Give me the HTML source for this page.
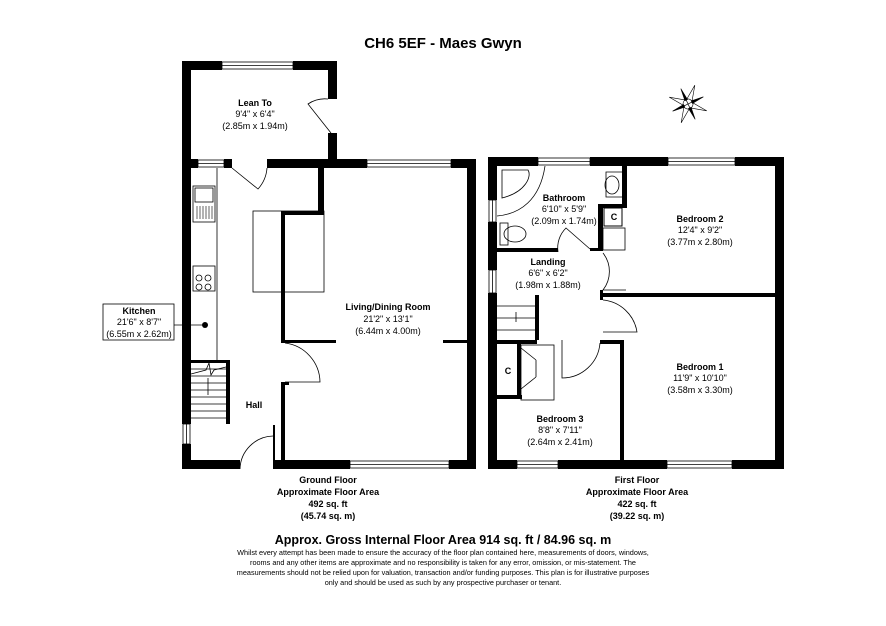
<!DOCTYPE html>
<html><head><meta charset="utf-8"><style>
html,body{margin:0;padding:0;background:#fff;}
svg{display:block;font-family:"Liberation Sans",Arial,sans-serif;}
</style></head><body>
<svg width="886" height="626" viewBox="0 0 886 626" xmlns="http://www.w3.org/2000/svg">
<rect width="886" height="626" fill="#fff"/>
<text x="443" y="48" font-size="15" font-weight="bold" text-anchor="middle">CH6 5EF - Maes Gwyn</text>

<!-- compass -->
<g transform="translate(688,104) rotate(20)" stroke="#000" stroke-width="0.6" fill="#fff">
<polygon points="0,-20 3,-3 0,0 -3,-3"/><polygon points="20,0 3,3 0,0 3,-3"/>
<polygon points="0,20 -3,3 0,0 3,3"/><polygon points="-20,0 -3,-3 0,0 -3,3"/>
<polygon points="-12,-12 -2,-4 -4,-2" fill="#000"/><polygon points="12,-12 4,-2 2,-4" fill="#000"/>
<polygon points="12,12 2,4 4,2" fill="#000"/><polygon points="-12,12 -4,2 -2,4" fill="#000"/>
<circle cx="0" cy="0" r="5" fill="none"/>
</g>

<g fill="#000">
<rect x="182" y="61" width="40" height="9"/>
<rect x="293" y="61" width="44" height="9"/>
<rect x="182" y="61" width="9" height="107"/>
<rect x="328" y="61" width="9" height="38"/>
<rect x="328" y="133" width="9" height="35"/>
<rect x="182" y="159" width="16" height="9"/>
<rect x="224" y="159" width="8" height="9"/>
<rect x="267" y="159" width="100" height="9"/>
<rect x="451" y="159" width="25" height="9"/>
<rect x="182" y="159" width="9" height="265"/>
<rect x="182" y="444" width="9" height="25"/>
<rect x="467" y="159" width="9" height="310"/>
<rect x="182" y="460" width="58" height="9"/>
<rect x="275" y="460" width="75" height="9"/>
<rect x="449" y="460" width="27" height="9"/>
<rect x="318" y="168" width="6" height="47"/>
<rect x="281" y="211" width="43" height="4"/>
<rect x="281" y="211" width="4" height="132"/>
<rect x="281" y="340" width="55" height="3"/>
<rect x="443" y="340" width="24" height="3"/>
<rect x="281" y="382" width="4" height="87"/>
<rect x="281" y="382" width="8" height="3"/>
<rect x="273" y="425" width="2" height="44"/>
<rect x="226" y="360" width="4" height="64"/>
<rect x="191" y="360" width="39" height="3"/>

<rect x="488" y="157" width="50" height="9"/>
<rect x="590" y="157" width="78" height="9"/>
<rect x="735" y="157" width="49" height="9"/>
<rect x="488" y="157" width="9" height="43"/>
<rect x="488" y="222" width="9" height="48"/>
<rect x="488" y="293" width="9" height="176"/>
<rect x="775" y="157" width="9" height="312"/>
<rect x="488" y="460" width="29" height="9"/>
<rect x="558" y="460" width="109" height="9"/>
<rect x="732" y="460" width="52" height="9"/>
<rect x="497" y="248" width="61" height="4"/>
<rect x="622" y="166" width="5" height="40"/>
<rect x="598" y="204" width="29" height="4"/>
<rect x="598" y="204" width="5" height="47"/>
<rect x="590" y="248" width="13" height="3"/>
<rect x="600" y="293" width="175" height="4"/>
<rect x="600" y="290" width="3" height="10"/>
<rect x="620" y="340" width="4" height="120"/>
<rect x="600" y="340" width="24" height="4"/>
<rect x="535" y="295" width="4" height="45"/>
<rect x="497" y="340" width="40" height="4"/>
<rect x="517" y="344" width="4" height="54"/>
<rect x="497" y="395" width="25" height="4"/>
</g>

<g fill="none" stroke="#000" stroke-width="0.8">
<rect x="222" y="62" width="71" height="7"/><line x1="222" y1="65.5" x2="293" y2="65.5"/>
<rect x="198" y="160" width="26" height="7"/><line x1="198" y1="163.5" x2="224" y2="163.5"/>
<rect x="367" y="160" width="84" height="7"/><line x1="367" y1="163.5" x2="451" y2="163.5"/>
<rect x="350" y="461" width="99" height="7"/><line x1="350" y1="464.5" x2="449" y2="464.5"/>
<rect x="183" y="424" width="7" height="20"/><line x1="186.5" y1="424" x2="186.5" y2="444"/>
<rect x="538" y="158" width="52" height="7"/><line x1="538" y1="161.5" x2="590" y2="161.5"/>
<rect x="668" y="158" width="67" height="7"/><line x1="668" y1="161.5" x2="735" y2="161.5"/>
<rect x="517" y="461" width="41" height="7"/><line x1="517" y1="464.5" x2="558" y2="464.5"/>
<rect x="667" y="461" width="65" height="7"/><line x1="667" y1="464.5" x2="732" y2="464.5"/>
<rect x="489" y="200" width="7" height="22"/><line x1="492.5" y1="200" x2="492.5" y2="222"/>
<rect x="489" y="270" width="7" height="23"/><line x1="492.5" y1="270" x2="492.5" y2="293"/>
<line x1="217" y1="168" x2="217" y2="360"/>
<rect x="253" y="211" width="71" height="81"/>
<rect x="193" y="186" width="22" height="36"/>
<rect x="195" y="188" width="18" height="14"/>
<path d="M197 206v13M200 206v13M203 206v13M206 206v13M209 206v13M212 206v13" stroke-width="0.6"/>
<rect x="193" y="266" width="22" height="25"/>
<circle cx="199" cy="278" r="3"/><circle cx="208" cy="278" r="3"/><circle cx="199" cy="287" r="3"/><circle cx="208" cy="287" r="3"/>
<rect x="103" y="304" width="71" height="36"/>
<line x1="174" y1="325" x2="202" y2="325"/>
<path d="M191 369h35M191 376h35M191 383h35M191 390h35M191 397h35M191 404h35M191 411h35M191 418h35"/>
<path d="M191 374l15-4 3-7 2 12 3-5 12-3"/>
<line x1="208" y1="378" x2="208" y2="395"/>
<path d="M331 133 L308 104 A30 30 0 0 1 328 99"/>
<path d="M232 168L258 189 A35 35 0 0 0 267 168"/>
<path d="M285 343 A40 40 0 0 1 320 382 H285"/>
<path d="M240 469 A34 34 0 0 1 273 436"/>
<path d="M590 249L566 228 A28 28 0 0 0 558 252"/>
<path d="M603 253 A30 30 0 0 1 603 290 H626"/>
<path d="M603 300 A38 38 0 0 1 637 332 H603"/>
<path d="M600 343 A38 38 0 0 1 562 378 V340"/>
<path d="M614 215l-6-10M614 215l-6 0"/>
<path d="M497 306h38M497 318h38M497 330h38"/>
<line x1="516" y1="312" x2="516" y2="322"/>
<path d="M497 216 C520 214 540 200 545 166"/>
<path d="M502 170h26 c4 6 -2 22 -26 28z"/>
<rect x="500" y="223" width="8" height="22"/>
<ellipse cx="515" cy="234" rx="11" ry="8"/>
<path d="M622 172h-16v25h16"/><ellipse cx="612" cy="185" rx="7" ry="9"/>
<rect x="603" y="228" width="22" height="22"/>
<path d="M521 348l15 12M521 389l15-12M536 360v17"/>
<rect x="521" y="345" width="33" height="55"/>
</g>
<g fill="#000"><circle cx="205" cy="325" r="3"/></g>
<rect x="604" y="208" width="18" height="18" fill="#fff" stroke="#000" stroke-width="1"/>

<g font-size="9" text-anchor="middle">
<text x="255" y="106" font-weight="bold">Lean To</text>
<text x="255" y="117">9'4" x 6'4"</text>
<text x="255" y="129">(2.85m x 1.94m)</text>
<text x="388" y="310" font-weight="bold">Living/Dining Room</text>
<text x="388" y="322">21'2" x 13'1"</text>
<text x="388" y="334">(6.44m x 4.00m)</text>
<text x="139" y="314" font-weight="bold">Kitchen</text>
<text x="139" y="325">21'6" x 8'7"</text>
<text x="139" y="337">(6.55m x 2.62m)</text>
<text x="254" y="408" font-weight="bold">Hall</text>
<text x="564" y="201" font-weight="bold">Bathroom</text>
<text x="564" y="212">6'10" x 5'9"</text>
<text x="564" y="224">(2.09m x 1.74m)</text>
<text x="700" y="222" font-weight="bold">Bedroom 2</text>
<text x="700" y="233">12'4" x 9'2"</text>
<text x="700" y="245">(3.77m x 2.80m)</text>
<text x="548" y="265" font-weight="bold">Landing</text>
<text x="548" y="276">6'6" x 6'2"</text>
<text x="548" y="288">(1.98m x 1.88m)</text>
<text x="700" y="370" font-weight="bold">Bedroom 1</text>
<text x="700" y="381">11'9" x 10'10"</text>
<text x="700" y="393">(3.58m x 3.30m)</text>
<text x="560" y="422" font-weight="bold">Bedroom 3</text>
<text x="560" y="433">8'8" x 7'11"</text>
<text x="560" y="445">(2.64m x 2.41m)</text>
<text x="614" y="220" font-weight="bold">C</text>
<text x="508" y="374" font-weight="bold">C</text>
<g font-weight="bold">
<text x="328" y="483">Ground Floor</text>
<text x="328" y="495">Approximate Floor Area</text>
<text x="328" y="507">492 sq. ft</text>
<text x="328" y="519">(45.74 sq. m)</text>
<text x="637" y="483">First Floor</text>
<text x="637" y="495">Approximate Floor Area</text>
<text x="637" y="507">422 sq. ft</text>
<text x="637" y="519">(39.22 sq. m)</text>
</g>
<text x="443" y="544" font-size="12.5" font-weight="bold">Approx. Gross Internal Floor Area 914 sq. ft / 84.96 sq. m</text>
<g font-size="7.3">
<text x="443" y="555">Whilst every attempt has been made to ensure the accuracy of the floor plan contained here, measurements of doors, windows,</text>
<text x="443" y="565">rooms and any other items are approximate and no responsibility is taken for any error, omission, or mis-statement. The</text>
<text x="443" y="575">measurements should not be relied upon for valuation, transaction and/or funding purposes. This plan is for illustrative purposes</text>
<text x="443" y="585">only and should be used as such by any prospective purchaser or tenant.</text>
</g>
</g>
</svg>
</body></html>
